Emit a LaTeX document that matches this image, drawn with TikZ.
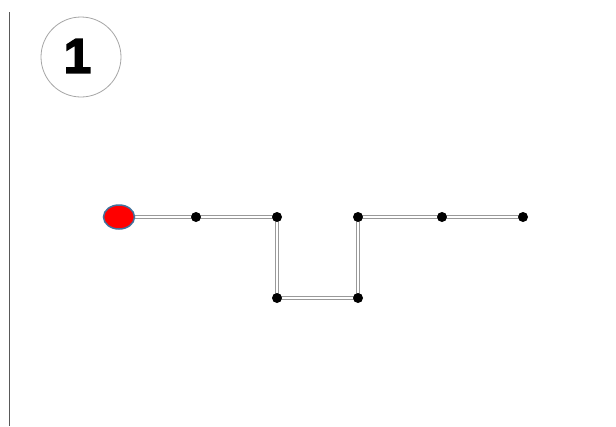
\documentclass[tikz,border=0pt]{standalone}
\usepackage{fontspec}
\setmainfont{Liberation Sans}
\newfontfamily\heavyfont[FakeBold=3]{Liberation Sans Bold}
\usetikzlibrary{shapes.geometric}
\begin{document}
\begin{tikzpicture}[x=1pt,y=-1pt,
  dot/.style={circle,fill=black,inner sep=0pt,minimum size=10pt},
  pipe/.style={draw=gray!80,double=white,double distance=2.2pt,line width=0.8pt},
  start/.style={ellipse,fill=red,draw={rgb,255:red,65;green,113;blue,156},line width=1.5pt,minimum width=31pt,minimum height=24pt,inner sep=0pt}]
\useasboundingbox (0,0) rectangle (616,426);
\fill[white] (0,0) rectangle (616,426);
\coordinate (lt) at (9,12);
\coordinate (lb) at (9,426);
\draw[gray!70!black,line width=0.8pt] (lt) -- (lb);
\node[circle,draw=gray!70,line width=0.8pt,minimum size=80pt,inner sep=0pt] (badge) at (81,57) {};
\node[font=\fontsize{49}{49}\heavyfont,inner sep=0pt] (num) at (77.5,56) {1};
\coordinate (p0) at (119,217);
\coordinate (p1) at (196,217);
\coordinate (p2) at (277,217);
\coordinate (p3) at (277,298);
\coordinate (p4) at (358,298);
\coordinate (p5) at (358,217);
\coordinate (p6) at (442,217);
\coordinate (p7) at (523,217);
\draw[pipe] (p0) -- (p1) -- (p2) -- (p3) -- (p4) -- (p5) -- (p6) -- (p7);
\node[start] (s) at (p0) {};
\node[dot] (d1) at (p1) {};
\node[dot] (d2) at (p2) {};
\node[dot] (d3) at (p3) {};
\node[dot] (d4) at (p4) {};
\node[dot] (d5) at (p5) {};
\node[dot] (d6) at (p6) {};
\node[dot] (d7) at (p7) {};
\end{tikzpicture}
\end{document}
